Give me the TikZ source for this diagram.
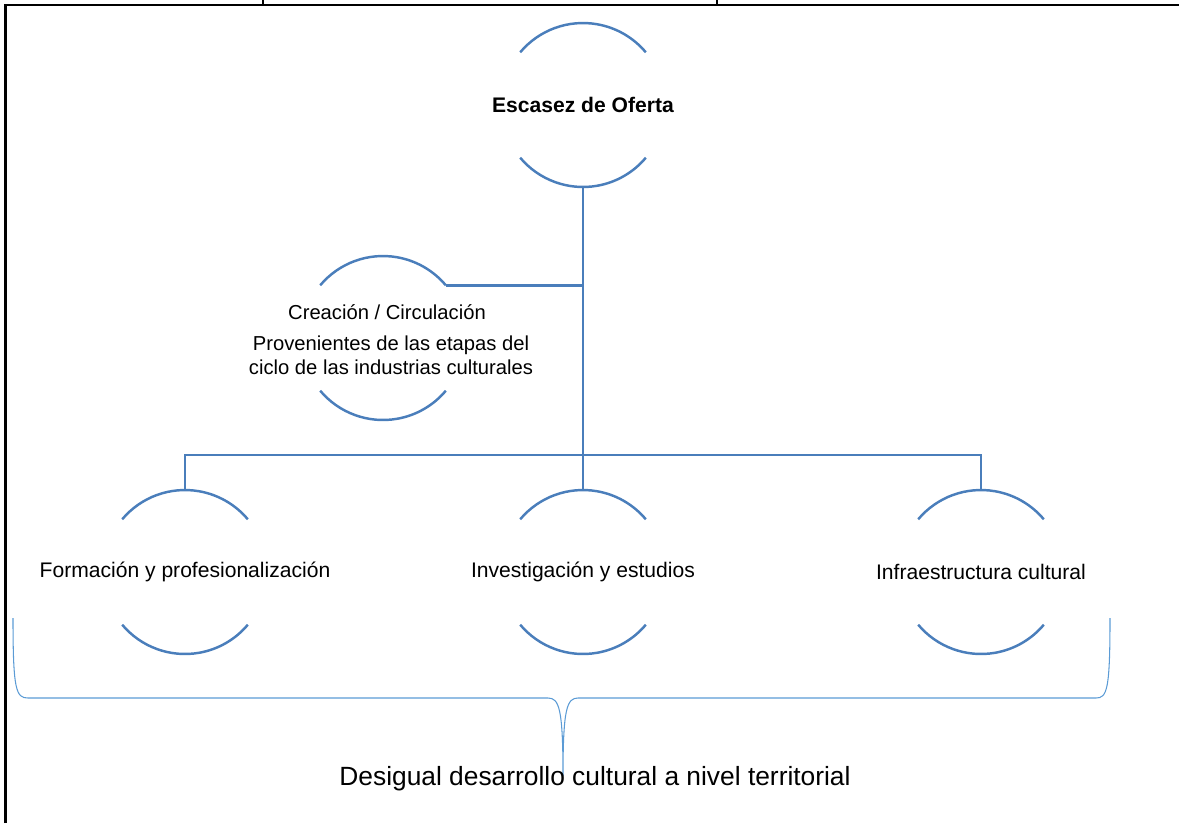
\documentclass[tikz,border=0pt]{standalone}
\usepackage{fontspec}
\setmainfont{Liberation Sans}
\usepackage{tikz}
\definecolor{ringblue}{RGB}{74,126,187}
\definecolor{braceblue}{RGB}{91,155,213}
\newcommand{\ringarcs}[1]{%
	\draw[arcs] (#1.140) arc[start angle=140, end angle=40, radius=1.64cm];
	\draw[arcs] (#1.220) arc[start angle=220, end angle=320, radius=1.64cm];}

\begin{document}
\begin{tikzpicture}[x=0.02cm, y=-0.02cm]
	\tikzstyle{ring} = [circle, minimum size=3.28cm, inner sep=0pt, outer sep=0pt]
	\tikzstyle{txt} = [inner sep=0pt, font=\fontsize{12}{14}\selectfont]
	\tikzstyle{arcs} = [draw=ringblue, line width=1.4pt]
	\tikzstyle{link} = [draw=ringblue, line width=1.4pt]
	\useasboundingbox (0,0) rectangle (1179,823);
	% frame
	\draw [line width=1.4pt] (5.5,823) -- (5.5,5) -- (1179,5);
	\draw [line width=0.8pt] (263,0) -- (263,5);
	\draw [line width=0.8pt] (717,0) -- (717,5);
	% rings
	\node[ring] (oferta) at (583,105) {};
	\node[ring] (creacion) at (383,338) {};
	\node[ring] (formacion) at (185,572) {};
	\node[ring] (investigacion) at (583,572) {};
	\node[ring] (infra) at (981,572) {};
	\ringarcs{oferta}
	\ringarcs{creacion}
	\ringarcs{formacion}
	\ringarcs{investigacion}
	\ringarcs{infra}
	% texts
	\node[txt, font=\fontsize{12}{14}\selectfont\bfseries] (ofertatxt) at (oferta) {Escasez de Oferta};
	\node[txt, font=\fontsize{11.5}{13.5}\selectfont] (creaciontxt) at (387,312) {Creación / Circulación};
	\node[txt, font=\fontsize{11.5}{13.5}\selectfont, align=center] (etapas) at (391,355) {Provenientes de las etapas del\\ciclo de las industrias culturales};
	\node[txt] (formaciontxt) at (formacion) {Formación y profesionalización};
	\node[txt] (investigaciontxt) at (investigacion) {Investigación y estudios};
	\node[txt] (infratxt) at (infra) {Infraestructura cultural};
	% connectors
	\coordinate (bar) at (583,455);
	\draw [link] (oferta.south) -- (investigacion.north);
	\draw [link] (creacion.40) -- (creacion.40 -| oferta.south);
	\draw [link] (formacion.north) -- (formacion.north |- bar) -- (infra.north |- bar) -- (infra.north);
	% brace
	\coordinate (bl) at (13,618);
	\coordinate (tip) at (563,776);
	\coordinate (br) at (1110,618);
	\draw [braceblue, line width=0.6pt] (bl) .. controls (13,690) and (16,698) .. (28,698)
		-- (548,698) .. controls (559,698) and (563,708) .. (tip)
		.. controls (563,708) and (567,698) .. (578,698)
		-- (1096,698) .. controls (1107,698) and (1110,690) .. (br);
	\node[inner sep=0pt, font=\fontsize{15}{18}\selectfont] (desigual) at (595,779) {Desigual desarrollo cultural a nivel territorial};
\end{tikzpicture}
\end{document}
